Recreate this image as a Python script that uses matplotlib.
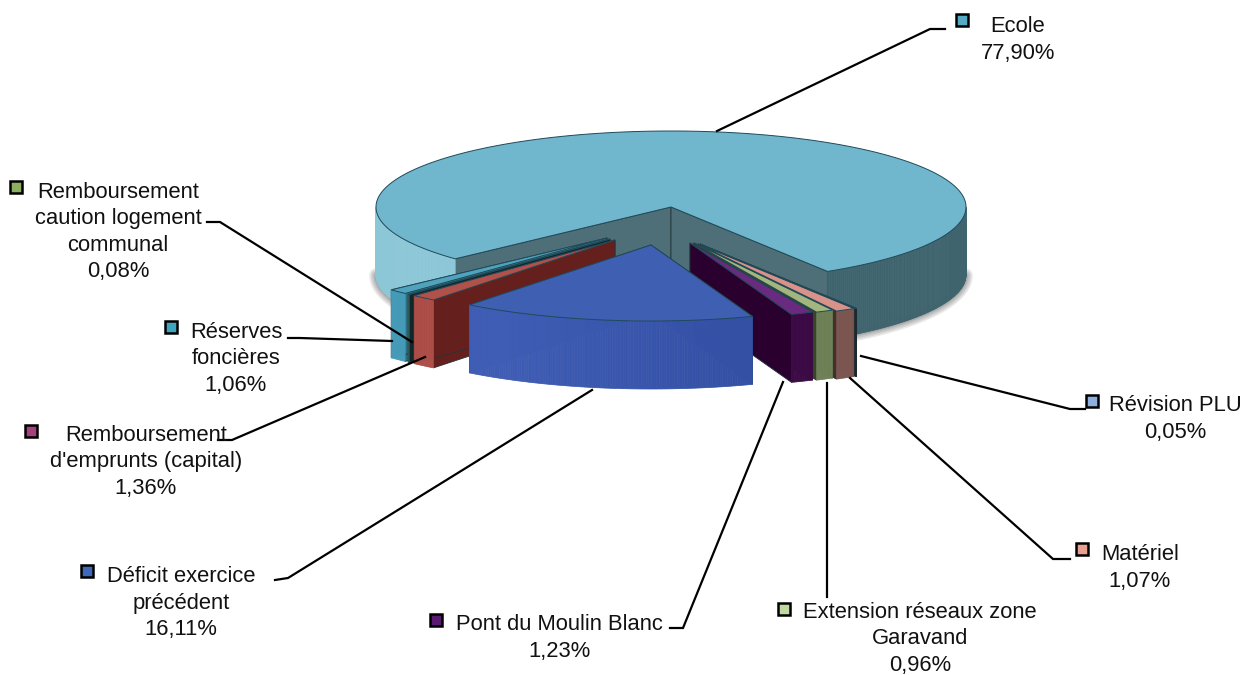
import numpy as np
import matplotlib
matplotlib.use("Agg")
import matplotlib.pyplot as plt
from matplotlib.patches import Polygon, Rectangle
from matplotlib.colors import to_rgb

plt.rcParams["font.family"] = ["Liberation Sans", "DejaVu Sans"]

# order is clockwise, as the slices sit on the pie
names = ["Ecole", "Révision PLU", "Matériel", "Extension réseaux zone\nGaravand",
         "Pont du Moulin Blanc", "Déficit exercice\nprécédent",
         "Remboursement\nd'emprunts (capital)",
         "Remboursement\ncaution logement\ncommunal", "Réserves\nfoncières"]
shares = [77.90, 0.05, 1.07, 0.96, 1.23, 16.11, 1.36, 0.08, 1.06]
share_labels = ["77,90%", "0,05%", "1,07%", "0,96%", "1,23%", "16,11%", "1,36%", "0,08%", "1,06%"]

top_colors = ["#70B6CC", "#6E8AAA", "#D8928A", "#A3B67E", "#6A2A80", "#3F60B2", "#B2504A", "#3E5B3A", "#4FA3BC"]
wall_left = ["#8CC7D8", "#1C2830", "#7C5650", "#6E8156", "#3C0A44", "#3F5DB4", "#AD4E48", "#2E5A5E", "#469CB8"]
wall_right = ["#3F646E", "#1C2830", "#7C5650", "#6E8156", "#3C0A44", "#3350A5", "#AD4E48", "#2E5A5E", "#469CB8"]
cut_colors = ["#4E6F78", "#1C2830", "#4A2C28", "#3A4428", "#2A002F", "#35519F", "#65201E", "#10282A", "#2F6F82"]
legend_colors = ["#55ABC4", "#8DB0E0", "#E8A090", "#BFD9A0", "#5A1A70", "#3F68B8", "#A8407A", "#8DB060", "#3FA5BE"]

# layout, in pixels
CENTER = (671, 207)
RX, RY, DEPTH = 295, 76, 68
FIRST_ANGLE = 223
apexes = [(671, 207), (700, 244), (698, 244), (694, 243), (690, 243),
          (651, 245), (615, 240), (610, 239), (607, 238)]
draw_order = [0, 8, 7, 6, 1, 2, 3, 4, 5]

label_pos = [(1018, 40), (1175, 419), (1140, 568), (920, 639), (559, 638),
             (181, 603), (146, 462), (118, 232), (236, 359)]
square_pos = [(962, 20), (1092, 401), (1082, 549), (784, 609), (436, 620),
              (87, 571), (31, 431), (16, 187), (171, 327)]
leaders = [
    [(945, 29), (930, 29), (717, 131)],
    [(1085, 409), (1070, 409), (861, 356)],
    [(1070, 559), (1053, 559), (850, 378)],
    [(827, 597), (827, 383)],
    [(670, 628), (683, 628), (783, 382)],
    [(275, 580), (288, 578), (592, 390)],
    [(218, 440), (232, 440), (425, 357)],
    [(207, 222), (220, 222), (412, 342)],
    [(288, 338), (300, 338), (392, 341)],
]


def rim(apex, deg):
    t = np.radians(deg)
    return apex[0] + RX * np.cos(t), apex[1] - RY * np.sin(t)


def mix(a, b, t):
    a, b = np.array(to_rgb(a)), np.array(to_rgb(b))
    return tuple(a + (b - a) * t)


def draw_slice(ax, i, start, end):
    apex = apexes[i]
    z = 1 + draw_order.index(i)
    thetas = np.linspace(start, end, max(int(abs(end - start) * 2), 2) + 1)
    pts = [rim(apex, t) for t in thetas]

    # the two cut faces, then the outer wall, then the top
    for deg in (start, end):
        x, y = rim(apex, deg)
        ax.add_patch(Polygon([apex, (x, y), (x, y + DEPTH), (apex[0], apex[1] + DEPTH)],
                             fc=cut_colors[i], ec="#22343A", lw=0.6, zorder=z))
    for t0, t1 in zip(thetas[:-1], thetas[1:]):
        if np.sin(np.radians((t0 + t1) / 2)) >= 0:
            continue
        x0, y0 = rim(apex, t0)
        x1, y1 = rim(apex, t1)
        t = np.clip((np.cos(np.radians(t0)) + 0.5) / 0.8, 0, 1)
        col = mix(wall_left[i], wall_right[i], t)
        ax.add_patch(Polygon([(x0, y0), (x1, y1), (x1, y1 + DEPTH), (x0, y0 + DEPTH)],
                             fc=col, ec=col, lw=0.5, zorder=z))
    ax.add_patch(Polygon([apex] + pts, fc=top_colors[i], ec="#1F4A5A", lw=0.7, zorder=z))


def draw_shadow(ax, start, end):
    # soft dark band under the outer wall of the big slice
    thetas = np.linspace(start, end, 400)
    thetas = thetas[np.sin(np.radians(thetas)) < 0]
    left = thetas[thetas > 100]
    right = thetas[thetas < 100]
    for part in (left, right):
        xs = [rim(CENTER, t)[0] for t in part]
        ys = [rim(CENTER, t)[1] + DEPTH for t in part]
        for lw in (14, 11, 8, 5, 3):
            ax.plot(xs, ys, color="#404040", lw=lw * 0.7, alpha=0.11, zorder=0.5,
                    solid_capstyle="round")


def main():
    fig = plt.figure(figsize=(12.54, 6.75), dpi=100)
    ax = fig.add_axes([0, 0, 1, 1])
    ax.set_xlim(0, 1254)
    ax.set_ylim(675, 0)
    ax.axis("off")

    spans = np.array(shares) / sum(shares) * 360
    ends = FIRST_ANGLE - np.cumsum(spans)
    starts = ends + spans

    draw_shadow(ax, starts[0], ends[0])
    for i in range(len(shares)):
        draw_slice(ax, i, starts[i], ends[i])

    for pts in leaders:
        xs, ys = zip(*pts)
        ax.plot(xs, ys, color="black", lw=1.6, zorder=20, solid_joinstyle="miter")

    for i, name in enumerate(names):
        ax.text(label_pos[i][0], label_pos[i][1], name + "\n" + share_labels[i],
                ha="center", va="center", fontsize=15.8, color="#111111",
                linespacing=1.33, zorder=21)
        sx, sy = square_pos[i]
        ax.add_patch(Rectangle((sx - 6, sy - 6), 12, 12, fc=legend_colors[i], ec="black",
                               lw=1.8, zorder=21))

    fig.savefig("out.png", dpi=100, facecolor="white")


if __name__ == "__main__":
    main()
